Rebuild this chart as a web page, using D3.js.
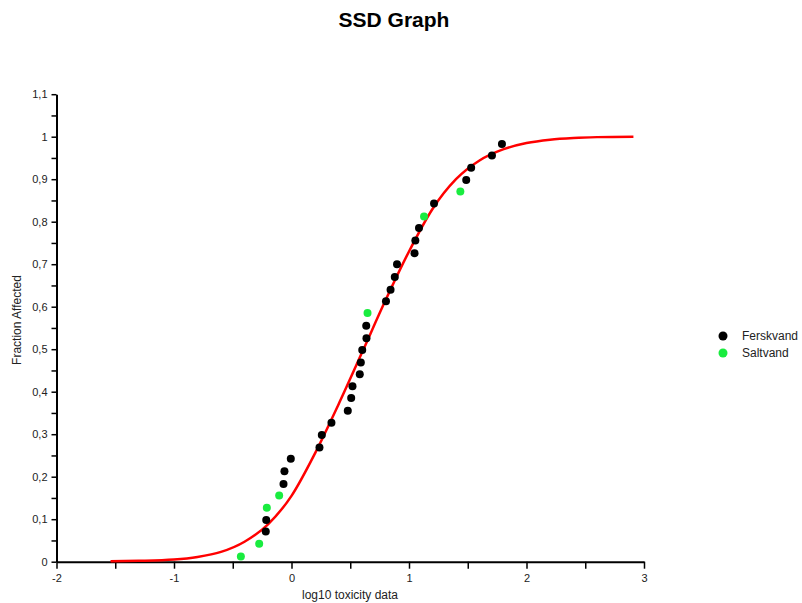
<!DOCTYPE html>
<html>
<head>
<meta charset="utf-8">
<script src="https://cdn.jsdelivr.net/npm/d3@7"></script>
<style>
  body { margin: 0; background: #fff; }
  text { font-family: "Liberation Sans", Arial, sans-serif; }
</style>
</head>
<body>
<svg width="802" height="603"></svg>
<script>
// Ferskvand (freshwater) points
var ferskX = [-0.219, -0.215, -0.068, -0.060, -0.006, 0.238, 0.258, 0.340, 0.479, 0.508,
              0.519, 0.581, 0.590, 0.602, 0.638, 0.636, 0.804, 0.843, 0.879, 0.898,
              1.047, 1.054, 1.085, 1.213, 1.487, 1.529, 1.706, 1.791];
var ferskY = [0.071, 0.098, 0.183, 0.213, 0.242, 0.269, 0.298, 0.327, 0.355, 0.385,
              0.413, 0.441, 0.469, 0.498, 0.526, 0.555, 0.613, 0.640, 0.670, 0.700,
              0.726, 0.756, 0.785, 0.843, 0.898, 0.927, 0.956, 0.983];

// Saltvand (saltwater) points
var saltX = [-0.431, -0.275, -0.210, -0.105, 0.647, 1.128, 1.437];
var saltY = [0.012, 0.042, 0.127, 0.156, 0.585, 0.812, 0.871];

// fitted SSD curve
var curveX = [-1.54, -1.3, -1.0, -0.8, -0.6, -0.4, -0.2, 0, 0.2, 0.4, 0.6,
              0.8, 1.0, 1.2, 1.4, 1.6, 1.8, 2.0, 2.2, 2.4, 2.6, 2.91];
var curveY = [0.001, 0.002, 0.005, 0.011, 0.023, 0.047, 0.088, 0.155, 0.255, 0.370, 0.492,
              0.615, 0.730, 0.830, 0.900, 0.944, 0.970, 0.985, 0.993, 0.997, 0.999, 1.0];

var xTicks = [-2, -1, 0, 1, 2, 3];
var xMinor = [-1.5, -0.5, 0.5, 1.5, 2.5];
var yTicks = [0, 0.1, 0.2, 0.3, 0.4, 0.5, 0.6, 0.7, 0.8, 0.9, 1, 1.1];
var yMinor = [0.05, 0.15, 0.25, 0.35, 0.45, 0.55, 0.65, 0.75, 0.85, 0.95, 1.05];

var series = [
  { name: "Ferskvand", color: "#000000", xs: ferskX, ys: ferskY },
  { name: "Saltvand", color: "#19ec3f", xs: saltX, ys: saltY }
];

var svg = d3.select("svg");

var x = d3.scaleLinear().domain([-2, 3]).range([56.5, 644]);
var y = d3.scaleLinear().domain([0, 1.1]).range([561.7, 94.2]);

var locale = d3.formatLocale({ decimal: ",", thousands: ".", grouping: [3], currency: ["", ""], minus: "-" });
var fmt = locale.format(".1~f");

// title
svg.append("text")
    .attr("x", 394)
    .attr("y", 27)
    .attr("text-anchor", "middle")
    .attr("font-size", 21)
    .attr("font-weight", "bold")
    .attr("fill", "#000")
    .text("SSD Graph");

// axes
svg.append("g")
    .attr("transform", "translate(0," + y(0) + ")")
    .call(d3.axisBottom(x).tickValues(xTicks).tickSize(7).tickSizeOuter(0).tickPadding(6)
        .tickFormat(locale.format("d")));
var gxm = svg.append("g")
    .attr("transform", "translate(0," + y(0) + ")")
    .call(d3.axisBottom(x).tickValues(xMinor).tickSize(7).tickFormat(""));
gxm.select(".domain").remove();

svg.append("g")
    .attr("transform", "translate(" + x(-2) + ",0)")
    .call(d3.axisLeft(y).tickValues(yTicks).tickSize(5).tickSizeOuter(0).tickPadding(4)
        .tickFormat(fmt));
var gym = svg.append("g")
    .attr("transform", "translate(" + x(-2) + ",0)")
    .call(d3.axisLeft(y).tickValues(yMinor).tickSize(5).tickFormat(""));
gym.select(".domain").remove();

svg.selectAll(".domain").attr("stroke", "#000").attr("stroke-width", 2);
svg.selectAll(".tick line").attr("stroke", "#000").attr("stroke-width", 1.5);
svg.selectAll(".tick text").attr("font-size", 11).attr("fill", "#222")
    .style("font-family", "'Liberation Sans', Arial, sans-serif");

// axis titles
svg.append("text")
    .attr("x", 350)
    .attr("y", 599)
    .attr("text-anchor", "middle")
    .attr("font-size", 12)
    .attr("fill", "#222")
    .text("log10 toxicity data");

svg.append("text")
    .attr("transform", "translate(21,320) rotate(-90)")
    .attr("text-anchor", "middle")
    .attr("font-size", 12)
    .attr("fill", "#222")
    .text("Fraction Affected");

// fitted curve
var line = d3.line()
    .x(function (d) { return x(d[0]); })
    .y(function (d) { return y(d[1]); })
    .curve(d3.curveMonotoneX);

svg.append("path")
    .datum(d3.zip(curveX, curveY))
    .attr("fill", "none")
    .attr("stroke", "#ff0000")
    .attr("stroke-width", 2.5)
    .attr("d", line);

// points
series.forEach(function (s) {
    svg.append("g")
        .selectAll("circle")
        .data(d3.zip(s.xs, s.ys))
        .enter().append("circle")
        .attr("cx", function (d) { return x(d[0]); })
        .attr("cy", function (d) { return y(d[1]); })
        .attr("r", 4)
        .attr("fill", s.color);
});

// legend
var legend = svg.append("g").attr("transform", "translate(723,336)");
series.forEach(function (s, i) {
    var g = legend.append("g").attr("transform", "translate(0," + (i * 17) + ")");
    g.append("circle").attr("r", 4.5).attr("fill", s.color);
    g.append("text")
        .attr("x", 19)
        .attr("y", 4)
        .attr("font-size", 12)
        .attr("fill", "#222")
        .text(s.name);
});
</script>
</body>
</html>
